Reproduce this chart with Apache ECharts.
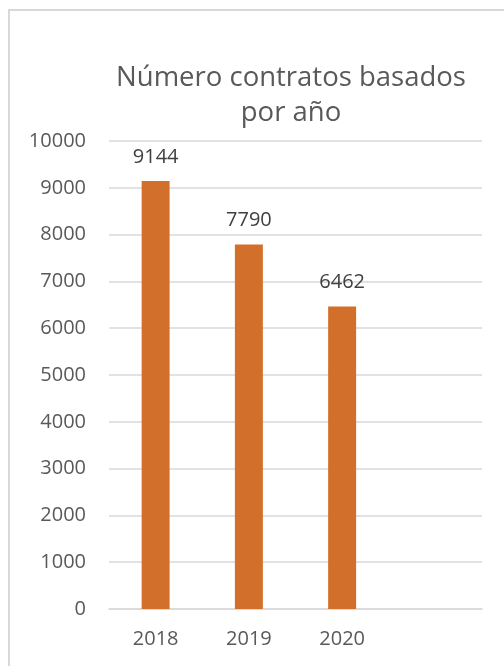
<!DOCTYPE html>
<html>
<head>
<meta charset="utf-8">
<script src="https://cdn.jsdelivr.net/npm/echarts@6/dist/echarts.min.js"></script>
<style>html,body{margin:0;padding:0;background:#fff;}#c{width:504px;height:666px;}</style>
</head>
<body>
<div id="c"></div>
<script>
const titleText = 'Número contratos basados\npor año';
const categories = ['2018', '2019', '2020', ''];
const values = [9144, 7790, 6462, null];
const yTicks = { min: 0, max: 10000, interval: 1000 };

const chart = echarts.init(document.getElementById('c'));
chart.setOption({
  animation: false,
  backgroundColor: '#fff',
  graphic: [{
    type: 'rect', silent: true,
    shape: { x: 9, y: 10, width: 600, height: 700 },
    style: { fill: 'none', stroke: '#d9d9d9', lineWidth: 2 }
  }],
  title: {
    text: titleText, left: 286, top: 56, textAlign: 'center',
    textStyle: { fontFamily: 'Open Sans', fontSize: 27.5, fontWeight: 'normal', color: '#595959', lineHeight: 35 }
  },
  grid: { left: 109, right: 22, top: 141, bottom: 57 },
  xAxis: {
    type: 'category', data: categories,
    axisLine: { lineStyle: { color: '#d9d9d9', width: 1.5 } },
    axisTick: { show: false },
    axisLabel: { fontFamily: 'Open Sans', fontSize: 20, color: '#595959', margin: 20 }
  },
  yAxis: {
    type: 'value', min: yTicks.min, max: yTicks.max, interval: yTicks.interval,
    axisLine: { show: false }, axisTick: { show: false },
    splitLine: { lineStyle: { color: '#d9d9d9', width: 1.5 } },
    axisLabel: { fontFamily: 'Open Sans', fontSize: 20, color: '#595959', margin: 23, formatter: v => String(v) }
  },
  series: [{
    type: 'bar', data: values, barWidth: '30%',
    itemStyle: { color: '#D2702B' },
    label: { show: true, position: 'top', distance: 14, fontFamily: 'Open Sans', fontSize: 20, color: '#404040' }
  }]
});
</script>
</body>
</html>
